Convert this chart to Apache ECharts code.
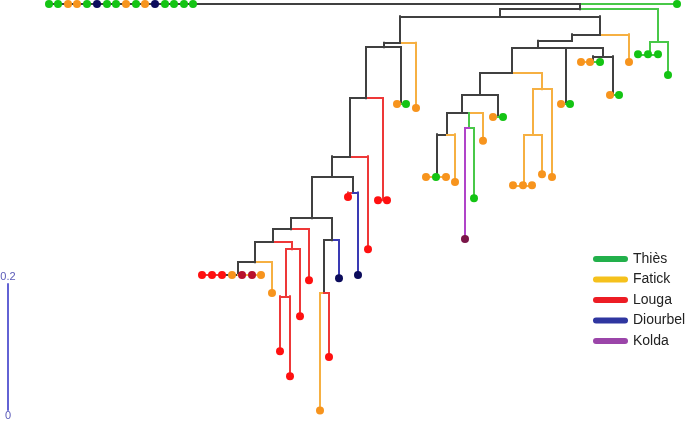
<!DOCTYPE html>
<html><head><meta charset="utf-8">
<script src="https://cdn.jsdelivr.net/npm/echarts@6/dist/echarts.min.js"></script>
<style>html,body{margin:0;padding:0;background:#fff}#c{width:685px;height:421px}</style>
</head><body><div id="c"></div>
<script>
// Tree nodes: [id, parent, horizontal position, depth (substitutions/site), branch region, leaf region, horizontal-branch region]
// region codes: N = unassigned backbone, T = Thiès, F = Fatick, L = Louga, D = Diourbel, K = Kolda
const rootClade = [
  ['r', null, 580, 0, 'N'],
  ['r01','r',49,0,'N','T'],['r02','r',58,0,'N','T'],['r03','r',68,0,'N','F'],['r04','r',77,0,'N','F'],
  ['r05','r',87,0,'N','T'],['r06','r',97,0,'N','D'],['r07','r',107,0,'N','T'],['r08','r',116,0,'N','T'],
  ['r09','r',126,0,'N','F'],['r10','r',136,0,'N','T'],['r11','r',145,0,'N','F'],['r12','r',155,0,'N','D'],
  ['r13','r',165,0,'N','T'],['r14','r',174,0,'N','T'],['r15','r',184,0,'N','T'],['r16','r',193,0,'N','T'],
  ['r17','r',677,0,'T','T'],
  ['n1','r',580,0.008,'N']
];
const thiesClade = [
  ['g1','n1',658,0.059,'T'],
  ['g2','g1',650,0.078,'T'],
  ['g21','g2',638,0.078,'T','T'],['g22','g2',648,0.078,'T','T'],['g23','g2',658,0.078,'T','T'],
  ['g3','g1',668,0.110,'T','T']
];
const upperClade = [
  ['n2','n1',500,0.019,'N'],
  ['b','n2',600,0.047,'N'],
  ['b1','b',629,0.090,'F','F'],
  ['c','b',572,0.057,'N'],
  ['d','c',538,0.068,'N'],
  ['i','d',512,0.107,'N'],
  ['j','d',566,0.155,'N'],
  ['j1','j',561,0.155,'F','F'],['j2','j',570,0.155,'T','T'],
  ['e','d',603,0.081,'N'],
  ['f','e',593,0.090,'N'],
  ['f1','f',581,0.090,'F','F'],['f2','f',590,0.090,'F','F'],['f3','f',600,0.090,'T','T'],
  ['h','e',613,0.141,'N'],
  ['h1','h',610,0.141,'F','F'],['h2','h',619,0.141,'T','T']
];
const fatickClade = [
  ['l','i',542,0.132,'F'],
  ['l1','l',552,0.268,'F','F'],
  ['m','l',533,0.203,'F'],
  ['m1','m',542,0.264,'F','F'],
  ['p','m',524,0.281,'F'],
  ['p1','p',513,0.281,'F','F'],['p2','p',523,0.281,'F','F'],['p3','p',532,0.281,'F','F']
];
const mixedClade = [
  ['k','i',480,0.141,'N'],
  ['q','k',498,0.175,'N'],
  ['q1','q',493,0.175,'F','F'],['q2','q',503,0.175,'T','T'],
  ['s0','k',462,0.169,'N'],
  ['s','s0',447,0.202,'N'],
  ['u','s',437,0.268,'N'],
  ['u1','u',426,0.268,'F','F'],['u2','u',436,0.268,'T','T'],['u3','u',446,0.268,'F','F'],
  ['s1','s',455,0.276,'F','F'],
  ['s2','s0',483,0.212,'F','F'],
  ['t','s0',469,0.192,'T',null,'N'],
  ['t1','t',474,0.301,'T','T'],
  ['t2','t',465,0.364,'K','K']
];
const lougaClade = [
  ['a','n2',400,0.060,'N'],
  ['a1','a',416,0.161,'F','F'],
  ['v','a',384,0.067,'N'],
  ['w','v',401,0.155,'N'],
  ['w1','w',397,0.155,'F','F'],['w2','w',406,0.155,'T','T'],
  ['x','v',366,0.146,'N'],
  ['y','x',383,0.304,'L'],
  ['y1','y',378,0.304,'L','L'],['y2','y',387,0.304,'L','L'],
  ['z','x',350,0.236,'N'],
  ['z1','z',368,0.380,'L','L'],
  ['aa','z',332,0.268,'N'],
  ['ab','aa',353,0.292,'N'],
  ['ab1','ab',348,0.299,'L','L'],
  ['ab2','ab',358,0.420,'D','D'],
  ['ac','aa',312,0.332,'N'],
  ['ad','ac',332,0.366,'N'],
  ['ad1','ad',339,0.425,'D','D'],
  ['af','ad',324,0.448,'N'],
  ['af1','af',320,0.630,'F','F'],
  ['af2','af',329,0.547,'L','L'],
  ['ae','ac',291,0.349,'N'],
  ['ae1','ae',309,0.428,'L','L'],
  ['ag','ae',273,0.369,'N'],
  ['ah','ag',292,0.380,'L'],
  ['ah1','ah',300,0.484,'L','L'],
  ['aj','ah',286,0.453,'L'],
  ['aj1','aj',280,0.538,'L','L'],
  ['aj2','aj',290,0.577,'L','L'],
  ['ai','ag',255,0.400,'N'],
  ['ai1','ai',272,0.448,'F','F'],
  ['ak','ai',238,0.420,'N'],
  ['k1','ak',202,0.420,'L','L'],['k2','ak',212,0.420,'L','L'],['k3','ak',222,0.420,'N','L'],
  ['k4','ak',232,0.420,'N','F'],['k5','ak',242,0.420,'N','L2'],['k6','ak',252,0.420,'N','L2'],
  ['k7','ak',261,0.420,'F','F']
];
const regions = ['Thiès','Fatick','Louga','Diourbel','Kolda'];
const regionOfCode = {T:'Thiès',F:'Fatick',L:'Louga',L2:'Louga',D:'Diourbel',K:'Kolda'};
const scaleBarTicks = ['0','0.2'];

const branchColor = {N:'#404040',T:'#48c848',F:'#f6b042',L:'#ee3838',D:'#3a3ab4',K:'#b044c8'};
const dotColor = {T:'#14c414',F:'#f7941d',L:'#ff1010',L2:'#b8102c',D:'#0c0c5c',K:'#7a1548'};
const legendColor = {'Thiès':'#22b04b','Fatick':'#f5c11c','Louga':'#ed1c24','Diourbel':'#2f36a0','Kolda':'#9b45a9'};

const nodes = [].concat(rootClade, thiesClade, upperClade, fatickClade, mixedClade, lougaClade);
const byId = {};
nodes.forEach(n => { byId[n[0]] = n; });
const segs = [];
nodes.forEach(n => {
  const p = byId[n[1]];
  if (!p) return;
  const hc = n[6] || n[4];
  if (p[2] !== n[2]) segs.push({coords:[[p[2],p[3]],[n[2],p[3]]], lineStyle:{color:branchColor[hc]}});
  if (p[3] !== n[3]) segs.push({coords:[[n[2],p[3]],[n[2],n[3]]], lineStyle:{color:branchColor[n[4]]}});
});

const capsule = 'path://M3,0H32A3,3,0,0,1,32,6H3A3,3,0,0,1,3,0Z';
const series = [{
  type:'lines', name:'branches', coordinateSystem:'cartesian2d', xAxisIndex:0, yAxisIndex:0,
  z:2, silent:true, data:segs,
  lineStyle:{width:2, opacity:1, cap:'square'}
}];
regions.forEach(name => {
  series.push({
    type:'scatter', name, xAxisIndex:0, yAxisIndex:0, z:3, clip:false, symbolSize:8,
    itemStyle:{opacity:1},
    data: nodes.filter(n => n[5] && regionOfCode[n[5]] === name)
               .map(n => ({value:[n[2], n[3]], itemStyle:{color:dotColor[n[5]], opacity:1}}))
  });
});

const chart = echarts.init(document.getElementById('c'), null, {renderer:'canvas'});
chart.setOption({
  animation:false,
  backgroundColor:'#fff',
  grid:[
    {left:0, right:0, top:4, bottom:4},
    {left:7, width:1, top:284, bottom:10}
  ],
  xAxis:[
    {gridIndex:0, type:'value', min:0, max:685, show:false},
    {gridIndex:1, type:'value', min:0, max:1, show:false}
  ],
  yAxis:[
    {gridIndex:0, type:'value', min:0, max:0.64, inverse:true, show:false},
    {gridIndex:1, type:'value', min:0, max:0.2, position:'left',
     axisLine:{show:true, lineStyle:{color:'#6262d4', width:2}},
     axisTick:{show:false}, axisLabel:{show:false}, splitLine:{show:false},
     name:scaleBarTicks[1], nameLocation:'end', nameGap:2,
     nameTextStyle:{color:'#5a5ab8', fontSize:11, fontFamily:'Liberation Sans'}},
    {gridIndex:1, type:'value', min:0, max:0.2, position:'left',
     axisLine:{show:false}, axisTick:{show:false}, axisLabel:{show:false}, splitLine:{show:false},
     name:scaleBarTicks[0], nameLocation:'start', nameGap:0,
     nameTextStyle:{color:'#5a5ab8', fontSize:11, fontFamily:'Liberation Sans'}}
  ],
  legend:{
    orient:'vertical', left:588, top:246, itemWidth:35, itemHeight:6, itemGap:4.5,
    selectedMode:false,
    textStyle:{fontSize:14, lineHeight:16, color:'#222', fontFamily:'Liberation Sans'},
    data: regions.map(name => ({name, icon:capsule, itemStyle:{color:legendColor[name], opacity:1}}))
  },
  series
});
</script></body></html>
